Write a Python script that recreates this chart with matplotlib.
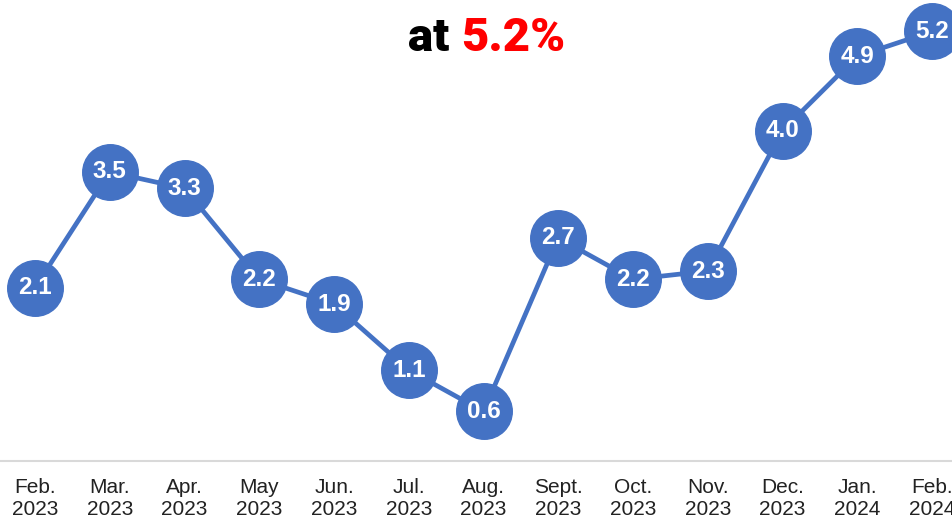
import matplotlib
matplotlib.use("Agg")
import matplotlib.pyplot as plt

months = ["Feb.\n2023", "Mar.\n2023", "Apr.\n2023", "May\n2023", "Jun.\n2023", "Jul.\n2023",
          "Aug.\n2023", "Sept.\n2023", "Oct.\n2023", "Nov.\n2023", "Dec.\n2023", "Jan.\n2024", "Feb.\n2024"]
values = [2.1, 3.5, 3.3, 2.2, 1.9, 1.1, 0.6, 2.7, 2.2, 2.3, 4.0, 4.9, 5.2]
title_black = "at "
title_red = "5.2%"

BLUE = "#4472C4"
W, H = 952, 524
fig = plt.figure(figsize=(W / 100, H / 100), dpi=100)
ax = fig.add_axes([0, (H - 461) / H, 1, 461 / H])

x = list(range(len(values)))
ax.plot(x, values, color=BLUE, lw=3.4, marker="o", markersize=40,
        markerfacecolor=BLUE, markeredgecolor=BLUE, zorder=3, clip_on=False)
for xi, v in zip(x, values):
    ax.text(xi, v, f"{v:.1f}", ha="center", va="center", color="white",
            fontsize=17.5, fontweight="bold", family="Liberation Sans", zorder=4)

ax.set_xlim(-35 / 74.75, 12 + 20 / 74.75)
ax.set_ylim(0, 461 / 82.6)
ax.set_xticks(x)
ax.set_xticklabels(months, fontsize=15, family="Liberation Sans", color="#222222", linespacing=1.2)
ax.tick_params(axis="x", length=0, pad=12)
ax.set_yticks([])
for s in ["top", "right", "left"]:
    ax.spines[s].set_visible(False)
ax.spines["bottom"].set_color("#d9d9d9")
ax.spines["bottom"].set_linewidth(1.5)

# Two-colour title
fig.canvas.draw()
r = fig.canvas.get_renderer()
t1 = fig.text(0, 0, title_black, fontsize=34, fontweight="black", family="Roboto", color="black")
t2 = fig.text(0, 0, title_red, fontsize=34, fontweight="black", family="Roboto", color="#FF0000")
w1 = t1.get_window_extent(r).width
w2 = t2.get_window_extent(r).width
total = w1 + w2
cx = 487
base_y = (H - 51) / H
t1.set_position(((cx - total / 2) / W, base_y))
t2.set_position(((cx - total / 2 + w1) / W, base_y))

fig.savefig("out.png", dpi=100)
